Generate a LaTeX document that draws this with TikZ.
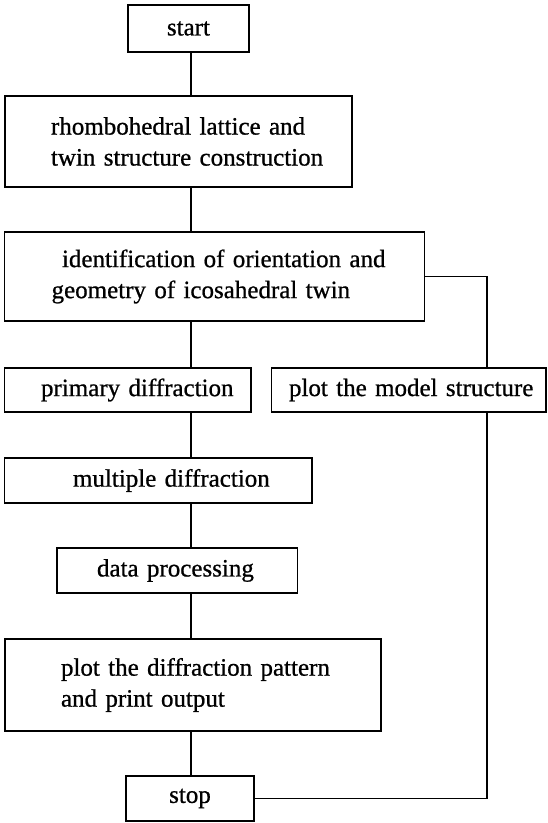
\documentclass[tikz,border=0pt]{standalone}
\usepackage{fontspec}
\setmainfont{Liberation Serif}
% a slightly heavier face for the box labels
\newfontfamily\boxfont{Liberation Serif}[BoldFont={Liberation Serif}, BoldFeatures={FakeBold=0.8}]
\begin{document}
\begin{tikzpicture}[x=1pt,y=-1pt,
  stepbox/.style={draw, rectangle, line width=1.6pt, anchor=north west,
    outer sep=0pt, inner ysep=0pt, align=left,
    font=\boxfont\bfseries\fontsize{25}{31}\selectfont},
  endbox/.style={stepbox, align=center},
  link/.style={line width=1.5pt}]
  \useasboundingbox (0,0) rectangle (547,823);

  % main column and the side rail
  \coordinate (spine) at (191,0);
  \coordinate (rail) at (487,0);

  \node[endbox, text width=101pt, inner xsep=10pt, minimum height=47pt] (start) at (128,5) {start};
  \node[stepbox, text width=255pt, inner xsep=46pt, minimum height=91pt] (rhombo) at (5,96)
    {\mbox{rhombohedral lattice and}\\\mbox{twin structure construction}};
  \node[stepbox, text width=325.8pt, inner xsep=47.1pt, minimum height=89pt] (ident) at (4.5,232)
    {\mbox{\hspace*{10.4pt}identification of orientation and}\\\mbox{geometry of icosahedral twin}};
  \node[stepbox, text width=173.5pt, inner xsep=36.5pt, minimum height=44pt] (primary) at (4.5,368)
    {\mbox{primary diffraction}};
  \node[stepbox, text width=239.5pt, inner xsep=17.5pt, minimum height=44pt] (model) at (271.5,368)
    {\mbox{plot the model structure}};
  \node[stepbox, text width=170.6pt, inner xsep=68.5pt, minimum height=45pt] (multiple) at (4.5,458)
    {\mbox{multiple diffraction}};
  \node[stepbox, text width=160.6pt, inner xsep=40pt, minimum height=45pt] (data) at (57,548)
    {\mbox{data processing}};
  \node[stepbox, text width=264pt, inner xsep=56pt, minimum height=92pt] (plot) at (5,639)
    {\mbox{plot the diffraction pattern}\\\mbox{and print output}};
  \node[endbox, text width=108pt, inner xsep=10pt, minimum height=45pt] (stop) at (126,776) {stop};

  % connectors down the main column
  \draw[link] (start.south -| spine) -- (rhombo.north -| spine);
  \draw[link] (rhombo.south -| spine) -- (ident.north -| spine);
  \draw[link] (ident.south -| spine) -- (primary.north -| spine);
  \draw[link] (primary.south -| spine) -- (multiple.north -| spine);
  \draw[link] (multiple.south -| spine) -- (data.north -| spine);
  \draw[link] (data.south -| spine) -- (plot.north -| spine);
  \draw[link] (plot.south -| spine) -- (stop.north -| spine);

  % side branch through the model plot
  \draw[link] (ident.east) -| (rail |- model.north);
  \draw[link] (rail |- model.south) |- (stop.east);
\end{tikzpicture}
\end{document}
